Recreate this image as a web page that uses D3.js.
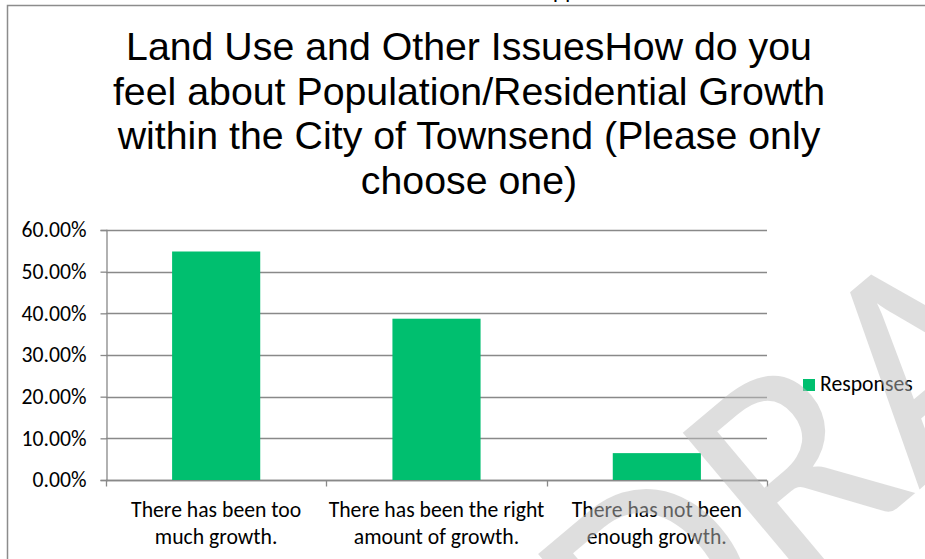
<!DOCTYPE html>
<html>
<head>
<meta charset="utf-8">
<script src="https://cdn.jsdelivr.net/npm/d3@7"></script>
<style>
  html, body { margin: 0; padding: 0; background: #fff; }
  svg { display: block; }
</style>
</head>
<body>
<svg id="chart" width="925" height="559"></svg>
<script>
// ---- data ----
const categories = [
  ["There has been too", "much growth."],
  ["There has been the right", "amount of growth."],
  ["There has not been", "enough growth."]
];
const responses = [0.5484, 0.3871, 0.0645];
const yTicks = [0, 0.1, 0.2, 0.3, 0.4, 0.5, 0.6];
const seriesName = "Responses";
const titleLines = [
  "Land Use and Other IssuesHow do you",
  "feel about Population/Residential Growth",
  "within the City of Townsend (Please only",
  "choose one)"
];
const watermark = "DRAFT";

// ---- drawing ----
const svg = d3.select("#chart");
const W = 925, H = 559;
const plot = { left: 106, right: 767, top: 230, bottom: 480 };
const green = "#00BF6F";
const axisFont = "Carlito, Lato, 'Open Sans', sans-serif";
const axisSize = 21.7;

// page border (chart frame)
svg.append("path")
  .attr("d", `M7.5,${H} V5.5 H${W}`)
  .attr("fill", "none").attr("stroke", "#8c8c8c").attr("stroke-width", 1.5);

// cut-off fragment from page above
svg.append("text").attr("x", 553).attr("y", -3)
  .attr("font-family", "Liberation Sans, Arial, sans-serif")
  .attr("font-size", 22).attr("fill", "#000").text("pp");

// title
const title = svg.append("text")
  .attr("text-anchor", "middle")
  .attr("font-family", "'Liberation Sans', Arial, sans-serif")
  .attr("font-size", 39.3).attr("fill", "#000");
titleLines.forEach((t, i) => {
  title.append("tspan").attr("x", 469).attr("y", 60 + i * 44.5).text(t);
});

const x = d3.scaleBand()
  .domain(d3.range(categories.length))
  .range([plot.left, plot.right])
  .paddingInner(0.6).paddingOuter(0.3);
const xEdge = d3.scaleLinear().domain([0, categories.length]).range([plot.left, plot.right]);
const y = d3.scaleLinear().domain([0, 0.6]).range([plot.bottom, plot.top]);

// gridlines
svg.append("g")
  .selectAll("line").data(yTicks).join("line")
  .attr("x1", plot.left).attr("x2", plot.right)
  .attr("y1", d => Math.round(y(d)) + 0.5).attr("y2", d => Math.round(y(d)) + 0.5)
  .attr("stroke", "#898989").attr("stroke-width", 1.3);

// y axis
const yAxis = svg.append("g")
  .attr("transform", `translate(${plot.left + 0.5},0)`)
  .call(d3.axisLeft(y).tickValues(yTicks).tickFormat(d3.format(".2%")).tickSize(6).tickPadding(14));
yAxis.select(".domain").attr("stroke", "#898989").attr("stroke-width", 1.3);
yAxis.selectAll(".tick line").attr("stroke", "#898989").attr("stroke-width", 1.3);
yAxis.selectAll(".tick text")
  .attr("font-family", axisFont).attr("font-size", axisSize).attr("fill", "#000");

// x axis
const xAxis = svg.append("g")
  .attr("transform", `translate(0,${plot.bottom + 0.5})`);
xAxis.append("line").attr("x1", plot.left).attr("x2", plot.right)
  .attr("stroke", "#898989").attr("stroke-width", 1.3);
xAxis.selectAll("line.tk").data(d3.range(categories.length + 1)).join("line")
  .attr("class", "tk")
  .attr("x1", d => Math.round(xEdge(d)) + 0.5).attr("x2", d => Math.round(xEdge(d)) + 0.5)
  .attr("y1", 0).attr("y2", 6)
  .attr("stroke", "#898989").attr("stroke-width", 1.3);

// bars
svg.append("g").selectAll("rect").data(responses).join("rect")
  .attr("x", (d, i) => x(i)).attr("width", x.bandwidth())
  .attr("y", d => y(d)).attr("height", d => y(0) - y(d))
  .attr("fill", green);

// category labels
const cat = svg.append("g");
categories.forEach((lines, i) => {
  const t = cat.append("text")
    .attr("text-anchor", "middle")
    .attr("font-family", axisFont).attr("font-size", axisSize).attr("fill", "#000");
  lines.forEach((l, j) => {
    t.append("tspan").attr("x", x(i) + x.bandwidth() / 2).attr("y", 517 + j * 27).text(l);
  });
});

// legend
const lg = svg.append("g").attr("transform", "translate(803,379)");
lg.append("rect").attr("width", 12).attr("height", 12).attr("fill", green);
lg.append("text").attr("x", 17).attr("y", 12)
  .attr("font-family", axisFont).attr("font-size", axisSize).attr("fill", "#000")
  .text(seriesName);

// watermark: rotated so that the apex of the "A" falls where the reference shows it
const angle = -40, fs = 305;
const wm = svg.append("text")
  .attr("font-family", "Carlito, Lato, sans-serif").attr("font-size", fs)
  .attr("fill", "#bebebe").attr("fill-opacity", 0.5)
  .attr("x", 0).attr("y", 0)
  .text(watermark);
const ext = wm.node().getExtentOfChar(2);
const apex = [ext.x + ext.width / 2, -0.644 * fs];
const a = angle * Math.PI / 180;
const rx = apex[0] * Math.cos(a) - apex[1] * Math.sin(a);
const ry = apex[0] * Math.sin(a) + apex[1] * Math.cos(a);
wm.attr("transform", `translate(${860 - rx},${283 - ry}) rotate(${angle})`);
</script>
</body>
</html>
